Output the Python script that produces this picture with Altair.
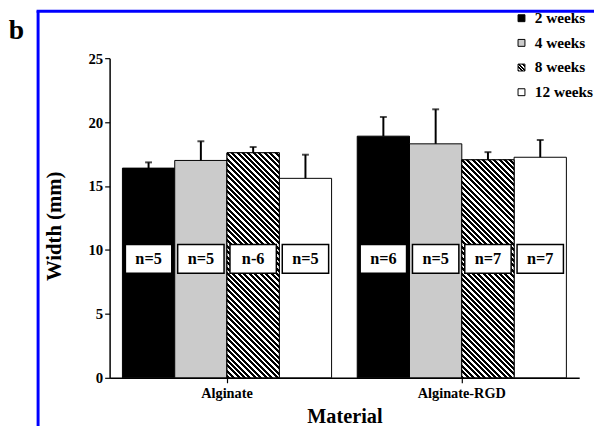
import altair as alt
import pandas as pd

# ---------------- data ----------------
materials = ["Alginate", "Alginate-RGD"]
weeks = ["2 weeks", "4 weeks", "8 weeks", "12 weeks"]
alginate_means = [16.4, 17.0, 17.6, 15.6]
alginate_errs = [0.45, 1.5, 0.45, 1.85]
alginate_n = ["n=5", "n=5", "n-6", "n=5"]
rgd_means = [18.9, 18.3, 17.05, 17.25]
rgd_errs = [1.5, 2.7, 0.6, 1.35]
rgd_n = ["n=6", "n=5", "n=7", "n=7"]
y_ticks = [0, 5, 10, 15, 20, 25]

rows = []
for m, means, errs, ns in [
    (materials[0], alginate_means, alginate_errs, alginate_n),
    (materials[1], rgd_means, rgd_errs, rgd_n),
]:
    for w, v, e, n in zip(weeks, means, errs, ns):
        rows.append(dict(material=m, week=w, mean=v, upper=v + e, n=n))
df = pd.DataFrame(rows)

# ---------------- layout / style ----------------
W, H = 476, 324
PX = H / 25.0
BAR_W = 53
SERIF = "Liberation Serif"
BLUE = "#0000ff"
GRAY = "#cbcbcb"


def hatch(w, h, period=5.5, frac=0.55):
    s = (w + h) / (w * w + h * h)
    n = max(1, int(round((w + h) / period)))
    stops = []
    for i in range(n):
        a = i / n
        b = (i + frac) / n
        c = (i + 1) / n
        stops += [
            alt.GradientStop(offset=a, color="black"),
            alt.GradientStop(offset=b, color="black"),
            alt.GradientStop(offset=b, color="white"),
            alt.GradientStop(offset=c, color="white"),
        ]
    return alt.LinearGradient(gradient="linear", x1=0, y1=1, x2=s * w, y2=1 - s * h, stops=stops)


x_enc = alt.X(
    "material:N",
    sort=materials,
    scale=alt.Scale(paddingInner=0, paddingOuter=0),
    axis=alt.Axis(
        title="Material", labelAngle=0, tickSize=5, labelPadding=4,
        titlePadding=7, titleFontSize=20.5, labelFontSize=14.5,
    ),
)
xo_enc = alt.XOffset("week:N", sort=weeks, scale=alt.Scale(paddingInner=0, paddingOuter=0.245))


def y_enc(field):
    return alt.Y(
        field,
        type="quantitative",
        scale=alt.Scale(domain=[0, 25], nice=False),
        axis=alt.Axis(
            title="Width (mm)", values=y_ticks, grid=False, tickSize=5,
            labelPadding=2, titlePadding=24, titleFontSize=21, labelFontSize=15,
            titleY=170,
        ),
    )


base = alt.Chart(df)

bars = base.mark_bar(stroke="black", strokeWidth=1, size=BAR_W).encode(
    x=x_enc,
    xOffset=xo_enc,
    y=y_enc("mean"),
    fill=alt.Fill("week:N", sort=weeks,
                  scale=alt.Scale(domain=weeks, range=["black", GRAY, "white", "white"]),
                  legend=None),
)

hatch_layers = []
for m, means in [(materials[0], alginate_means), (materials[1], rgd_means)]:
    hv = means[2]
    hatch_layers.append(
        base.transform_filter((alt.datum.material == m) & (alt.datum.week == weeks[2]))
        .mark_bar(fill=hatch(BAR_W, hv * PX), stroke="black", strokeWidth=1, size=BAR_W)
        .encode(x=x_enc, xOffset=xo_enc, y=y_enc("mean"))
    )

err_rule = base.mark_rule(color="black", strokeWidth=2).encode(
    x=x_enc, xOffset=xo_enc, y=y_enc("mean"), y2="upper"
)
err_cap = base.mark_tick(color="black", thickness=2, size=7).encode(
    x=x_enc, xOffset=xo_enc, y=y_enc("upper")
)

n_box = base.mark_bar(fill="white", stroke="black", strokeWidth=1.5, size=47).encode(
    x=x_enc, xOffset=xo_enc, y=alt.datum(8.18), y2=alt.datum(10.42)
)
n_text = base.mark_text(font=SERIF, fontWeight="bold", fontSize=16.5, baseline="middle").encode(
    x=x_enc, xOffset=xo_enc, y=alt.datum(9.3), text="n:N"
)

one = alt.Data(values=[{"k": 0}])

frame_left = alt.Chart(one).mark_rule(color=BLUE, strokeWidth=3).encode(
    x=alt.value(-72.5), y=alt.value(-48), y2=alt.value(380)
)
frame_top = alt.Chart(one).mark_rule(color=BLUE, strokeWidth=3).encode(
    x=alt.value(-74), x2=alt.value(495), y=alt.value(-47.5)
)
panel_b = alt.Chart(one).mark_text(
    text="b", font=SERIF, fontWeight="bold", fontSize=28, align="center", baseline="alphabetic"
).encode(x=alt.value(-94.5), y=alt.value(-19))

legend_fills = ["black", GRAY, hatch(7, 7, period=3.5), "white"]
legend_layers = []
for i, (lab, f) in enumerate(zip(weeks, legend_fills)):
    cy = -40.5 + 25 * i
    legend_layers.append(
        alt.Chart(one).mark_rect(fill=f, stroke="black", strokeWidth=1).encode(
            x=alt.value(414), x2=alt.value(421), y=alt.value(cy - 3.5), y2=alt.value(cy + 3.5)
        )
    )
    legend_layers.append(
        alt.Chart(one).mark_text(
            text=lab, font=SERIF, fontWeight="bold", fontSize=15.5, align="left", baseline="alphabetic"
        ).encode(x=alt.value(431), y=alt.value(cy + 5))
    )

chart = (
    alt.layer(bars, *hatch_layers, err_rule, err_cap, n_box, n_text,
              frame_left, frame_top, panel_b, *legend_layers)
    .properties(
        width=W, height=H,
        autosize=alt.AutoSizeParams(type="none"),
        padding={"left": 103, "top": 48, "right": 15, "bottom": 46},
        background="white",
    )
    .configure_view(stroke=None)
    .configure_axis(
        labelFont=SERIF, titleFont=SERIF, labelFontWeight="bold", titleFontWeight="bold",
        labelColor="black", titleColor="black", domainColor="black", tickColor="black",
        domainWidth=1.5, tickWidth=1.2,
    )
)

chart.save("out.html", embed_options={"renderer": "svg", "actions": False})
